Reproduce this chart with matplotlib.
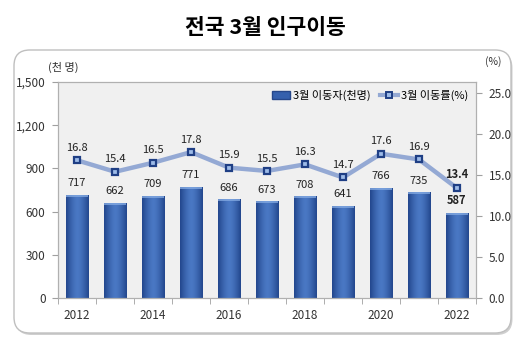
import matplotlib
matplotlib.use("Agg")
import matplotlib.pyplot as plt
import numpy as np
from matplotlib.patches import FancyBboxPatch, Rectangle
from matplotlib.lines import Line2D
from matplotlib.colors import LinearSegmentedColormap

plt.rcParams['font.family'] = ['Noto Sans CJK KR', 'DejaVu Sans']

years = [2012, 2013, 2014, 2015, 2016, 2017, 2018, 2019, 2020, 2021, 2022]
movers = [717, 662, 709, 771, 686, 673, 708, 641, 766, 735, 587]
rate = [16.8, 15.4, 16.5, 17.8, 15.9, 15.5, 16.3, 14.7, 17.6, 16.9, 13.4]
year_labels = ['2012', '', '2014', '', '2016', '', '2018', '', '2020', '', '2022']
left_ticks = [0, 300, 600, 900, 1200, 1500]
right_ticks = [0, 5, 10, 15, 20, 25]

W, H = 528, 347
fig = plt.figure(figsize=(W/100, H/100), dpi=100)

# rounded frame with shadow
shadow = FancyBboxPatch((15.5/W, 1-335/H), 497/W, 283/H, boxstyle="round,pad=0,rounding_size=0.03",
                        transform=fig.transFigure, facecolor='#cfcfcf', edgecolor='none', zorder=0,
                        mutation_aspect=W/H)
fig.patches.append(shadow)
frame = FancyBboxPatch((14/W, 1-333/H), 497/W, 283/H, boxstyle="round,pad=0,rounding_size=0.03",
                       transform=fig.transFigure, facecolor='white', edgecolor='#bfbfbf', lw=1.0, zorder=0.5,
                       mutation_aspect=W/H)
fig.patches.append(frame)

fig.text(265/W, 1-28/H, '전국 3월 인구이동', ha='center', va='center', fontsize=15.5, fontweight='bold')

ax = fig.add_axes([58/W, 1-298/H, 418/W, 216/H])
ax.set_zorder(2)
ax.patch.set_facecolor('#f0f0f0')
x = np.arange(len(years))
bars = ax.bar(x, movers, width=0.6, color='#3560ad', edgecolor='#26478a', lw=0.6, zorder=2)

grad = np.linspace(0, 1, 64)
grad = 1 - 0.5 * (np.abs(grad - 0.5) * 2) ** 1.5
grad = np.tile(grad, (2, 1))
cmap = LinearSegmentedColormap.from_list('b', ['#22468c', '#4a78c4'])
for b in bars:
    x0, y0 = b.get_x(), b.get_y()
    w, h = b.get_width(), b.get_height()
    im = ax.imshow(grad, extent=(x0, x0 + w, y0, y0 + h), aspect='auto', cmap=cmap, vmin=0.5, vmax=1,
                   zorder=2.1, interpolation='bicubic')
    im.set_clip_path(b)
    ax.add_patch(Rectangle((x0, y0 + h - 14), w, 14, facecolor='#86acE4', edgecolor='none', zorder=2.2, alpha=0.75))

ax.set_xlim(-0.5, len(years) - 0.5)
ax.set_ylim(0, 1500)
ax.set_yticks(left_ticks)
ax.set_yticklabels([f'{v:,}' for v in left_ticks])
ax.set_xticks(x)
ax.set_xticklabels(year_labels)
ax.set_xticks(np.arange(-0.5, len(years)), minor=True)
ax.tick_params(axis='x', which='major', length=0, pad=8, labelsize=8.5, colors='#333333')
ax.tick_params(axis='x', which='minor', length=4, color='#a0a0a0', direction='out')
ax.tick_params(axis='y', length=4, color='#a0a0a0', direction='out', pad=5, labelsize=8.5, labelcolor='#333333')
for s in ax.spines.values():
    s.set_color('#b0b0b0')
    s.set_linewidth(0.8)

for i, v in enumerate(movers):
    bold = (i == len(movers) - 1)
    ax.text(x[i], v + 45, f'{v}', ha='center', va='bottom', fontsize=8,
            fontweight='bold' if bold else 'normal', color='#222222', zorder=5)

ax2 = ax.twinx()
ax2.set_ylim(0, 26.35)
ax2.set_yticks(right_ticks)
ax2.set_yticklabels([f'{v:.1f}' for v in right_ticks])
ax2.tick_params(axis='y', length=4, color='#a0a0a0', direction='out', pad=5, labelsize=8.5, labelcolor='#333333')
for s in ax2.spines.values():
    s.set_color('#b0b0b0')
    s.set_linewidth(0.8)
ax2.plot(x, rate, color='#94a9d4', lw=3.2, zorder=3, solid_capstyle='round')
ax2.plot(x, rate, linestyle='none', marker='s', markersize=5, markerfacecolor='#9dbbe8',
         markeredgecolor='#1f3f85', markeredgewidth=1.6, zorder=4)
for i, v in enumerate(rate):
    bold = (i == len(rate) - 1)
    ax2.text(x[i], v + 0.9, f'{v}', ha='center', va='bottom', fontsize=8,
             fontweight='bold' if bold else 'normal', color='#222222', zorder=5)

fig.text(63/W, 1-67/H, '(천 명)', ha='center', va='center', fontsize=8, color='#333333')
fig.text(493/W, 1-62/H, '(%)', ha='center', va='center', fontsize=7.5, color='#333333')

handles = [Rectangle((0, 0), 1, 1, facecolor='#3560ad', edgecolor='#26478a'),
           Line2D([0], [0], color='#94a9d4', lw=3, marker='s', markersize=5, markerfacecolor='#9dbbe8',
                  markeredgecolor='#1f3f85', markeredgewidth=1.4)]
leg = ax2.legend(handles, ['3월 이동자(천명)', '3월 이동률(%)'], loc='upper right', ncol=2, frameon=False,
                 fontsize=8, handlelength=1.6, handletextpad=0.3, columnspacing=0.8,
                 bbox_to_anchor=(1.0, 1.0), borderaxespad=0.3)

fig.savefig('out.png', dpi=100)
